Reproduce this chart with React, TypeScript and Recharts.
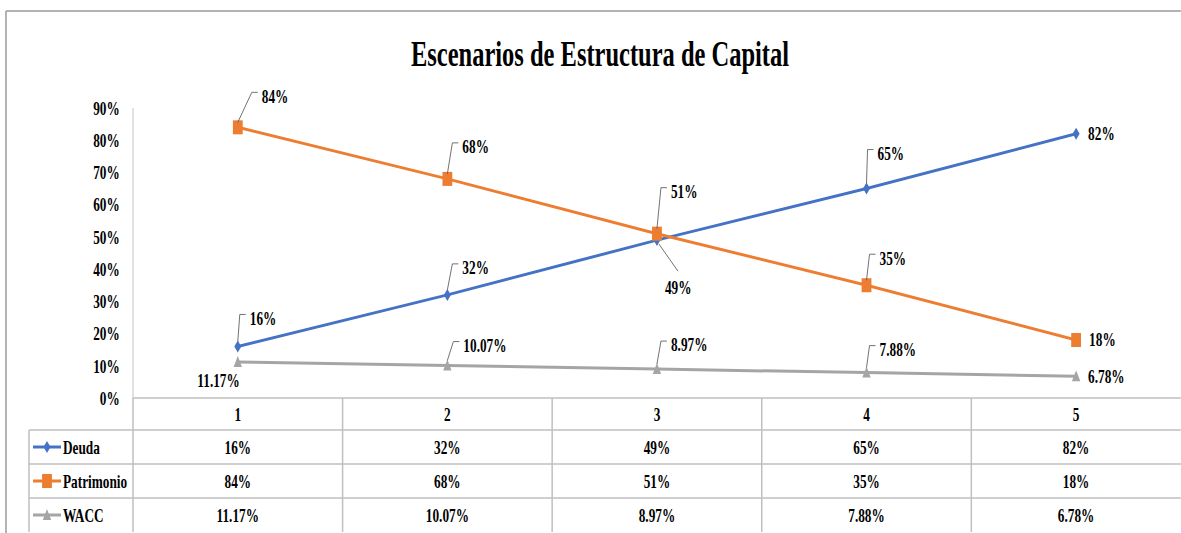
import { Line, LineChart, LabelList, XAxis, YAxis } from "recharts";

// the reference is a horizontally squeezed Excel chart, so we draw wide and squeeze
const K = 0.7;
const W = Math.round(1181 / K);
const H = 533;
const FONT = "'Liberation Serif', 'Times New Roman', serif";
const GRID = "#bfbfbf";

const scenarios = ["1", "2", "3", "4", "5"];
const deuda = [0.16, 0.32, 0.49, 0.65, 0.82];
const patrimonio = [0.84, 0.68, 0.51, 0.35, 0.18];
const wacc = [0.1117, 0.1007, 0.0897, 0.0788, 0.0678];
const yTicks = [0, 0.1, 0.2, 0.3, 0.4, 0.5, 0.6, 0.7, 0.8, 0.9];

const data = scenarios.map((name, i) => ({
  name,
  deuda: deuda[i],
  patrimonio: patrimonio[i],
  wacc: wacc[i],
}));

const pct0 = (v: number) => `${Math.round(v * 100)}%`;
const pct2 = (v: number) => `${(v * 100).toFixed(2)}%`;

// label placement (screen px after squeeze): text offset from the point
type Place = { dx: number; dy: number; leader: "up" | "down" | "none"; anchor?: string };
const deudaPlace: Place[] = [
  { dx: 12, dy: -28, leader: "up" },
  { dx: 15, dy: -27, leader: "up" },
  { dx: 8, dy: 48, leader: "down" },
  { dx: 11, dy: -35, leader: "up" },
  { dx: 12, dy: 0, leader: "none" },
];
const patrimonioPlace: Place[] = [
  { dx: 24, dy: -31, leader: "up" },
  { dx: 15, dy: -32, leader: "up" },
  { dx: 14, dy: -42, leader: "up" },
  { dx: 13, dy: -27, leader: "up" },
  { dx: 13, dy: 0, leader: "none" },
];
const waccPlace: Place[] = [
  { dx: 2, dy: 19, leader: "none", anchor: "end" },
  { dx: 16, dy: -20, leader: "up" },
  { dx: 14, dy: -24, leader: "up" },
  { dx: 13, dy: -23, leader: "up" },
  { dx: 12, dy: 0, leader: "none" },
];

const series = [
  { key: "deuda", axis: "x1", name: "Deuda", color: "#4472C4", values: deuda, fmt: pct0, place: deudaPlace, shape: "diamond" },
  { key: "patrimonio", axis: "x2", name: "Patrimonio", color: "#ED7D31", values: patrimonio, fmt: pct0, place: patrimonioPlace, shape: "square" },
  { key: "wacc", axis: "x3", name: "WACC", color: "#A5A5A5", values: wacc, fmt: pct2, place: waccPlace, shape: "triangle" },
];

const Y_W = 133 / K;
const BW = (W - Y_W) / scenarios.length;
const HEAD_H = 32;
const ROW_H = 34;
const LEG_L = 29 / K;

function Marker({ cx, cy, shape, color }: any) {
  if (shape === "square") return <rect x={cx - 7} y={cy - 7} width={14} height={14} fill={color} />;
  if (shape === "triangle")
    return <polygon points={`${cx},${cy - 6} ${cx + 6},${cy + 5} ${cx - 6},${cy + 5}`} fill={color} />;
  return <polygon points={`${cx},${cy - 6} ${cx + 5},${cy} ${cx},${cy + 6} ${cx - 5},${cy}`} fill={color} />;
}

const makeDot = (shape: string, color: string) => (p: any) =>
  <Marker key={`d${p.index}`} cx={p.cx} cy={p.cy} shape={shape} color={color} />;

const makeLabel = (place: Place[], fmt: (v: number) => string) => (p: any) => {
  const { x, y, value, index } = p;
  const pl = place[index];
  if (!pl) return null;
  const tx = x + pl.dx / K;
  const cy = y + pl.dy;
  let leader = null;
  if (pl.leader === "up")
    leader = (
      <polyline
        points={`${x},${y - 5} ${tx - 10 / K},${cy - 4} ${tx - 4 / K},${cy - 4}`}
        fill="none"
        stroke="#595959"
        strokeWidth={1}
      />
    );
  if (pl.leader === "down")
    leader = (
      <line x1={x + 2 / K} y1={y + 4} x2={tx + 13 / K} y2={cy - 17} stroke="#595959" strokeWidth={1} />
    );
  return (
    <g>
      {leader}
      <text
        x={tx}
        y={cy}
        textAnchor={pl.anchor || "start"}
        dominantBaseline="central"
        fontFamily={FONT}
        fontWeight="bold"
        fontSize={19}
        fill="#000"
      >
        {fmt(value)}
      </text>
    </g>
  );
};

const headTick = (p: any) => {
  const { x, y, payload } = p;
  const left = x - BW / 2;
  return (
    <g>
      <line x1={left} x2={left} y1={y} y2={y + HEAD_H} stroke={GRID} strokeWidth={1.5 / K} />
      <text x={x} y={y + HEAD_H / 2 + 1} textAnchor="middle" dominantBaseline="central"
        fontFamily={FONT} fontWeight="bold" fontSize={19} fill="#000">
        {payload.value}
      </text>
    </g>
  );
};

const rowTick = (s: (typeof series)[number]) => (p: any) => {
  const { x, y, payload } = p;
  const i = payload.index;
  const left = x - BW / 2;
  const cy = y + ROW_H / 2;
  return (
    <g>
      <line x1={left} x2={left + BW} y1={y} y2={y} stroke={GRID} strokeWidth={1.5} />
      <line x1={left} x2={left} y1={y} y2={y + ROW_H} stroke={GRID} strokeWidth={1.5 / K} />
      <text x={x} y={cy + 1} textAnchor="middle" dominantBaseline="central"
        fontFamily={FONT} fontWeight="bold" fontSize={19} fill="#000">
        {s.fmt(s.values[i])}
      </text>
      {i === 0 && (
        <g>
          <line x1={LEG_L} x2={left} y1={y} y2={y} stroke={GRID} strokeWidth={1.5} />
          <line x1={LEG_L} x2={LEG_L} y1={y} y2={y + ROW_H} stroke={GRID} strokeWidth={1.5 / K} />
          <line x1={33 / K} x2={61 / K} y1={cy} y2={cy} stroke={s.color} strokeWidth={3} />
          <Marker cx={47 / K} cy={cy} shape={s.shape} color={s.color} />
          <text x={63 / K} y={cy + 1} textAnchor="start" dominantBaseline="central"
            fontFamily={FONT} fontWeight="bold" fontSize={19} fill="#000">
            {s.name}
          </text>
        </g>
      )}
    </g>
  );
};

export default function App() {
  return (
    <div style={{ position: "absolute", left: 0, top: 0, width: 1181, height: H, overflow: "hidden", background: "#fff" }}>
      <div style={{ position: "relative", width: W, height: H, transform: `scaleX(${K})`, transformOrigin: "0 0" }}>
        <LineChart width={W} height={H} data={data} margin={{ top: 108, right: 0, left: 0, bottom: 1 }}>
          <YAxis
            domain={[0, 0.9]}
            ticks={yTicks}
            tickFormatter={pct0}
            width={Y_W}
            axisLine={{ stroke: "#d9d9d9", strokeWidth: 1.5 / K }}
            tickLine={false}
            tickSize={0}
            tickMargin={19}
            tick={{ fontFamily: FONT, fontWeight: "bold", fontSize: 19, fill: "#000" }}
          />
          <XAxis xAxisId="x0" dataKey="name" scale="band" height={HEAD_H} tickLine={false} tickSize={0} tickMargin={0}
            axisLine={{ stroke: GRID, strokeWidth: 1.5 }} tick={headTick} interval={0} />
          {series.map((s) => (
            <XAxis key={s.key} xAxisId={s.axis} dataKey="name" scale="band" height={ROW_H} tickLine={false} tickSize={0}
              tickMargin={0} axisLine={false} tick={rowTick(s)} interval={0} />
          ))}
          {series.map((s) => (
            <Line
              key={s.key}
              xAxisId="x0"
              dataKey={s.key}
              stroke={s.color}
              strokeWidth={3}
              dot={makeDot(s.shape, s.color)}
              activeDot={false}
              isAnimationActive={false}
            >
              <LabelList dataKey={s.key} content={makeLabel(s.place, s.fmt)} />
            </Line>
          ))}
        </LineChart>
        <svg width={W} height={H} style={{ position: "absolute", left: 0, top: 0, pointerEvents: "none" }}>
          <line x1={6 / K} x2={W} y1={11} y2={11} stroke="#9a9a9a" strokeWidth={1.5} />
          <line x1={6 / K} x2={6 / K} y1={11} y2={H} stroke="#9a9a9a" strokeWidth={1.5 / K} />
          <text x={600 / K} y={66} textAnchor="middle" fontFamily={FONT} fontWeight="bold" fontSize={35} fill="#000">
            Escenarios de Estructura de Capital
          </text>
        </svg>
      </div>
    </div>
  );
}
